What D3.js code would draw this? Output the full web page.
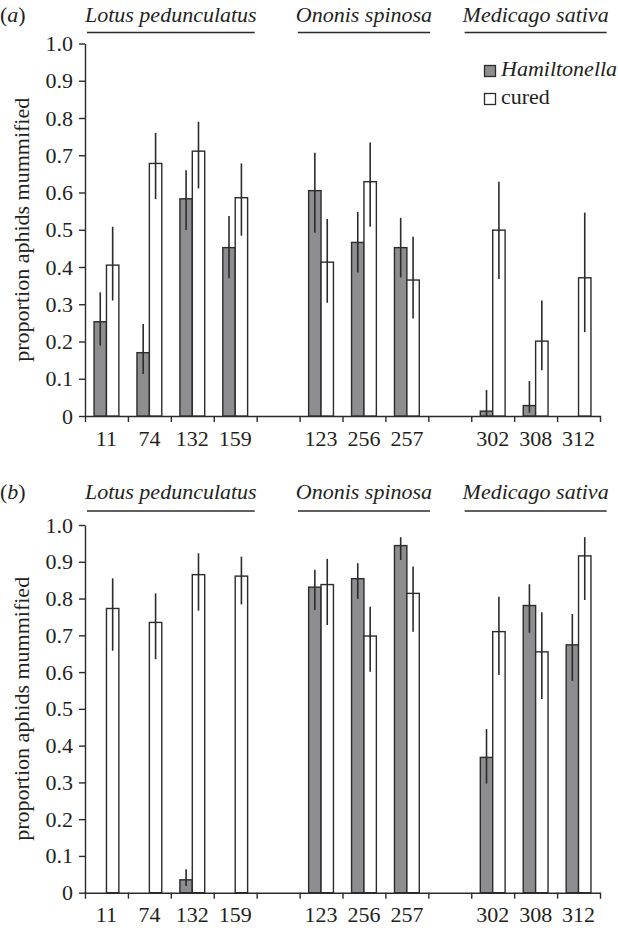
<!DOCTYPE html>
<html>
<head>
<meta charset="utf-8">
<script src="https://cdn.jsdelivr.net/npm/d3@7"></script>
</head>
<body style="margin:0; background:#fff">
<script>
const w = 618;
const h = 928;
const barFill = "#8e8e91";
const ink = "#2b2b2b";
const textInk = "#231f20";
const serif = "Liberation Serif";

// aphid lines and the host plant species they come from
const lines = ["11", "74", "132", "159", "123", "256", "257", "302", "308", "312"];
const species = ["Lotus pedunculatus", "Ononis spinosa", "Medicago sativa"];
const speciesOf = [0, 0, 0, 0, 1, 1, 1, 2, 2, 2];
const legendLabels = ["Hamiltonella", "cured"];
const yTicks = [0, 0.1, 0.2, 0.3, 0.4, 0.5, 0.6, 0.7, 0.8, 0.9, 1.0];

// panel (a)
const aHam     = [0.253, 0.170, 0.583, 0.452, 0.605, 0.466, 0.452, 0.013, 0.028, 0];
const aHamLo   = [0.189, 0.113, 0.499, 0.370, 0.492, 0.385, 0.372, 0.000, 0.009, null];
const aHamHi   = [0.332, 0.247, 0.660, 0.537, 0.707, 0.548, 0.532, 0.070, 0.094, null];
const aCured   = [0.405, 0.678, 0.711, 0.586, 0.413, 0.629, 0.365, 0.499, 0.201, 0.371];
const aCuredLo = [0.310, 0.582, 0.611, 0.484, 0.304, 0.508, 0.262, 0.368, 0.123, 0.225];
const aCuredHi = [0.508, 0.760, 0.790, 0.678, 0.529, 0.734, 0.481, 0.629, 0.310, 0.546];

// panel (b)
const bHam     = [0, 0, 0.035, 0, 0.831, 0.854, 0.944, 0.368, 0.781, 0.674];
const bHamLo   = [null, null, 0.018, null, 0.769, 0.799, 0.905, 0.297, 0.707, 0.576];
const bHamHi   = [null, null, 0.064, null, 0.878, 0.896, 0.967, 0.445, 0.839, 0.758];
const bCured   = [0.773, 0.735, 0.865, 0.861, 0.838, 0.698, 0.814, 0.710, 0.655, 0.916];
const bCuredLo = [0.658, 0.635, 0.767, 0.784, 0.728, 0.601, 0.710, 0.592, 0.527, 0.796];
const bCuredHi = [0.855, 0.814, 0.923, 0.914, 0.908, 0.778, 0.887, 0.805, 0.763, 0.967];

const svg = d3.select("body")
              .append("svg")
              .attr("width", w)
              .attr("height", h);

// slots along x: one per line, with an empty slot between species
const slots = [];
lines.forEach(function(l, i) {
  if (i > 0 && speciesOf[i] !== speciesOf[i - 1]) slots.push("gap" + i);
  slots.push(l);
});

const x = d3.scaleBand()
            .domain(slots)
            .range([85, 600]);

const sub = d3.scaleBand()
              .domain(["ham", "cured"])
              .range([0, x.bandwidth()])
              .paddingOuter(0.73);

const drawPanel = function(p) {
  const y = d3.scaleLinear().domain([0, 1]).range([p.y0, p.y1]);
  const g = svg.append("g");

  // y axis
  g.append("g")
   .attr("transform", "translate(85,0)")
   .call(d3.axisLeft(y)
           .tickValues(yTicks)
           .tickSizeInner(6)
           .tickSizeOuter(0)
           .tickPadding(6)
           .tickFormat(d => d === 0 ? "0" : d3.format(".1f")(d)))
   .attr("font-family", null)
   .attr("font-size", null);

  // x axis: labels at slot centres, ticks at slot edges
  const xAxis = g.append("g")
     .attr("transform", "translate(0," + p.y0 + ")")
     .call(d3.axisBottom(x)
             .tickValues(lines)
             .tickSizeInner(0)
             .tickSizeOuter(6)
             .tickPadding(14))
     .attr("font-family", null)
     .attr("font-size", null);
  xAxis.selectAll(".edge")
     .data(slots.slice(1))
     .enter()
     .append("line")
     .attr("x1", d => x(d) + 0.5)
     .attr("x2", d => x(d) + 0.5)
     .attr("y1", 0)
     .attr("y2", 6);
  g.selectAll(".domain, line").attr("stroke", ink).attr("stroke-width", 1.4);

  g.append("text")
   .attr("transform", "translate(29," + (p.y0 + p.y1) / 2 + ") rotate(-90)")
   .attr("text-anchor", "middle")
   .text("proportion aphids mummified");

  g.append("text")
   .attr("x", 0)
   .attr("y", p.labelY)
   .html("(<tspan font-style='italic'>" + p.tag + "</tspan>)");

  // species headers with rule underneath
  species.forEach(function(s, k) {
    const members = lines.filter((l, i) => speciesOf[i] === k);
    const cx = (x(members[0]) + x(members[members.length - 1]) + x.bandwidth()) / 2;
    const t = g.append("text")
       .attr("x", cx)
       .attr("y", p.labelY)
       .attr("text-anchor", "middle")
       .attr("font-family", serif)
       .attr("font-size", 22)
       .attr("font-style", "italic")
       .text(s);
    const len = t.node().getComputedTextLength();
    g.append("line")
     .attr("x1", cx - len / 2 + 2)
     .attr("x2", cx + len / 2 - 2)
     .attr("y1", p.ruleY)
     .attr("y2", p.ruleY)
     .attr("stroke", ink)
     .attr("stroke-width", 1.4);
  });

  const series = [
    { key: "ham", v: p.ham, lo: p.hamLo, hi: p.hamHi, fill: barFill },
    { key: "cured", v: p.cured, lo: p.curedLo, hi: p.curedHi, fill: "#fff" }
  ];

  series.forEach(function(s) {
    const items = lines.map((l, i) => ({ line: l, v: s.v[i], lo: s.lo[i], hi: s.hi[i] }))
                       .filter(d => d.v > 0);
    g.selectAll(".bar-" + s.key)
     .data(items)
     .enter()
     .append("rect")
     .attr("class", "bar-" + s.key)
     .attr("x", d => x(d.line) + sub(s.key))
     .attr("y", d => y(d.v))
     .attr("width", sub.bandwidth())
     .attr("height", d => y(0) - y(d.v))
     .attr("fill", s.fill)
     .attr("stroke", ink)
     .attr("stroke-width", 1.4);

    g.selectAll(".err-" + s.key)
     .data(items.filter(d => d.hi !== null))
     .enter()
     .append("line")
     .attr("class", "err-" + s.key)
     .attr("x1", d => x(d.line) + sub(s.key) + sub.bandwidth() / 2)
     .attr("x2", d => x(d.line) + sub(s.key) + sub.bandwidth() / 2)
     .attr("y1", d => y(d.lo))
     .attr("y2", d => y(d.hi))
     .attr("stroke", ink)
     .attr("stroke-width", 1.6);
  });

  if (p.legend) {
    const lg = g.append("g").attr("transform", "translate(484,65)");
    legendLabels.forEach(function(l, i) {
      lg.append("rect")
        .attr("x", 0.5)
        .attr("y", i * 28 + 0.5)
        .attr("width", 11)
        .attr("height", 11)
        .attr("fill", i === 0 ? barFill : "#fff")
        .attr("stroke", ink)
        .attr("stroke-width", 1.3);
      lg.append("text")
        .attr("x", 17)
        .attr("y", i * 28 + 11)
        .attr("font-style", i === 0 ? "italic" : "normal")
        .text(l);
    });
  }
};

drawPanel({ tag: "a", y0: 416, y1: 43.5, labelY: 22, ruleY: 32.5, legend: true,
            ham: aHam, hamLo: aHamLo, hamHi: aHamHi,
            cured: aCured, curedLo: aCuredLo, curedHi: aCuredHi });

drawPanel({ tag: "b", y0: 892.7, y1: 525, labelY: 499, ruleY: 511, legend: false,
            ham: bHam, hamLo: bHamLo, hamHi: bHamHi,
            cured: bCured, curedLo: bCuredLo, curedHi: bCuredHi });

// same serif face and size on every text
svg.selectAll("text")
   .attr("font-family", serif)
   .attr("font-size", 22)
   .attr("fill", textInk);
</script>
</body>
</html>
